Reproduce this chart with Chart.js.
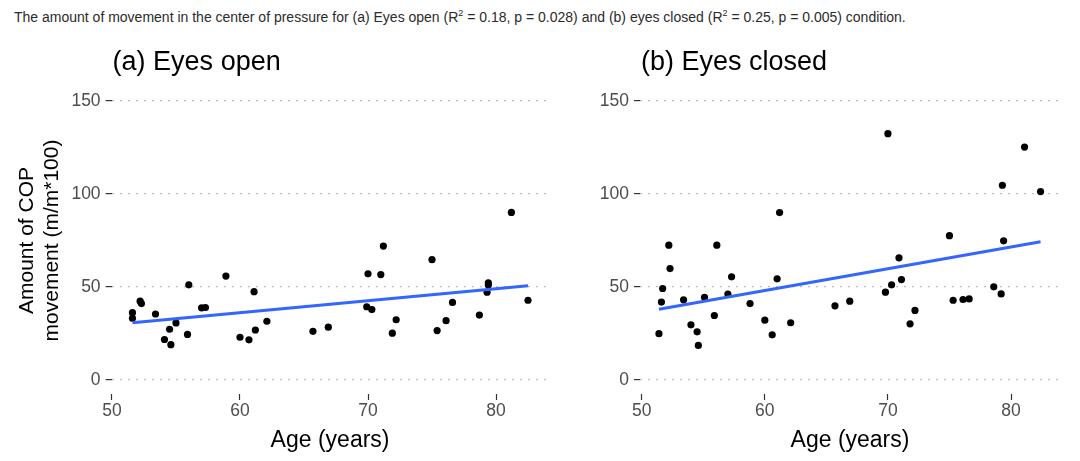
<!DOCTYPE html>
<html>
<head>
<meta charset="utf-8">
<script src="https://cdn.jsdelivr.net/npm/chart.js"></script>
<style>
  body { margin: 0; width: 1080px; height: 461px; background: #fff; position: relative; overflow: hidden;
         font-family: "Liberation Sans", Arial, sans-serif; }
  .caption { position: absolute; left: 14px; top: 9px; font-size: 14px; line-height: 16px; color: #2b2b2b; white-space: nowrap; }
  .caption sup { font-size: 9px; line-height: 0; }
  canvas { position: absolute; top: 0; }
  #chartOpen { left: 0; }
  #chartClosed { left: 560px; }
</style>
</head>
<body>
<div class="caption">The amount of movement in the center of pressure for (a) Eyes open (R<sup>2</sup> = 0.18, p = 0.028) and (b) eyes closed (R<sup>2</sup> = 0.25, p = 0.005) condition.</div>
<canvas id="chartOpen" width="560" height="461"></canvas>
<canvas id="chartClosed" width="520" height="461"></canvas>
<script>
// values
const ageOpen = [51.6, 51.6, 52.2, 52.3, 53.4, 54.1, 54.5, 54.6, 55.0, 55.9, 56.0, 57.0, 57.3, 58.9, 60.0, 60.7, 61.1, 61.2, 62.1,
                 65.7, 66.9, 69.9, 70.0, 70.3, 71.0, 71.2, 71.9, 72.2, 75.0, 75.4, 76.1, 76.6, 78.7, 79.3, 79.4, 79.4, 81.2, 82.5];
const copOpen = [36.2, 33.2, 42.4, 41.1, 35.5, 21.8, 27.3, 19.0, 30.7, 24.5, 51.2, 38.8, 39.0, 55.9, 23.0, 21.6, 47.5, 26.9, 31.6,
                 26.2, 28.4, 39.4, 57.1, 37.9, 56.7, 72.0, 25.2, 32.4, 64.7, 26.6, 31.9, 41.7, 34.9, 47.2, 52.3, 51.1, 90.1, 42.9];

const ageClosed = [51.4, 51.6, 51.7, 52.2, 52.3, 53.4, 54.0, 54.5, 54.6, 55.1, 55.9, 56.1, 57.0, 57.3, 58.8, 60.0, 60.6, 61.0, 61.2, 62.1,
                   65.7, 66.9, 69.8, 70.0, 70.3, 70.9, 71.1, 71.8, 72.2, 75.0, 75.3, 76.1, 76.6, 78.6, 79.2, 79.3, 79.4, 81.1, 82.4];
const copClosed = [24.9, 41.9, 49.2, 72.5, 59.9, 43.1, 29.7, 25.9, 18.6, 44.5, 34.7, 72.5, 46.2, 55.5, 41.1, 32.2, 24.3, 54.4, 90.0, 30.8,
                   39.9, 42.4, 47.2, 132.4, 51.2, 65.7, 54.0, 30.2, 37.4, 77.6, 42.9, 43.3, 43.6, 50.1, 46.3, 104.7, 74.8, 125.2, 101.3];

const xTicks = [50, 60, 70, 80];
const yTicks = [0, 50, 100, 150];

Chart.defaults.font.family = '"Liberation Sans", Arial, sans-serif';

// least squares line over the data range (geom_smooth lm)
function fitLine(xs, ys) {
  const n = xs.length;
  const mx = xs.reduce((a, b) => a + b, 0) / n;
  const my = ys.reduce((a, b) => a + b, 0) / n;
  let sxy = 0, sxx = 0;
  for (let i = 0; i < n; i++) {
    sxy += (xs[i] - mx) * (ys[i] - my);
    sxx += (xs[i] - mx) * (xs[i] - mx);
  }
  const b = sxy / sxx, a = my - b * mx;
  const x0 = Math.min(...xs), x1 = Math.max(...xs);
  return [{ x: x0, y: a + b * x0 }, { x: x1, y: a + b * x1 }];
}

const panelTitle = {
  id: 'panelTitle',
  afterDraw(chart, args, opts) {
    const ctx = chart.ctx;
    ctx.save();
    ctx.font = '27px "Liberation Sans", Arial, sans-serif';
    ctx.fillStyle = '#000';
    ctx.textBaseline = 'alphabetic';
    ctx.fillText(opts.text, chart.chartArea.left + 1, 70);
    ctx.restore();
  }
};

function makeChart(id, title, ages, cops, opt) {
  const pts = ages.map((a, i) => ({ x: a, y: cops[i] }));
  return new Chart(document.getElementById(id), {
    type: 'scatter',
    data: {
      datasets: [
        { type: 'line', data: fitLine(ages, cops), borderColor: '#3366FF', borderWidth: 3,
          pointRadius: 0, fill: false, order: 0 },
        { data: pts, backgroundColor: '#000', borderWidth: 0, pointRadius: 3.6, order: 1 }
      ]
    },
    options: {
      responsive: false,
      animation: false,
      layout: { padding: { top: 87, right: opt.padRight, left: 0, bottom: 0 } },
      plugins: {
        legend: { display: false },
        tooltip: { enabled: false },
        panelTitle: { text: title }
      },
      scales: {
        x: {
          type: 'linear', min: opt.xMin, max: opt.xMax,
          afterBuildTicks: s => { s.ticks = xTicks.map(v => ({ value: v })); },
          afterFit: s => { s.height = 67; },
          border: { display: false },
          grid: { drawOnChartArea: false, tickLength: 6, tickColor: '#333', tickWidth: 1.2 },
          ticks: { color: '#4d4d4d', font: { size: 17.5 }, padding: 1, maxRotation: 0, autoSkip: false },
          title: { display: true, text: 'Age (years)', color: '#000', font: { size: 23 }, padding: { top: 0, bottom: 7 } }
        },
        y: {
          min: -7.5, max: 157.5,
          afterBuildTicks: s => { s.ticks = yTicks.map(v => ({ value: v })); },
          afterFit: s => { s.width = opt.leftW; },
          border: { display: false, dash: [2, 6] },
          grid: { color: '#bdbdbd', lineWidth: 1.2, tickLength: 6, tickColor: '#333', tickWidth: 1.2, tickBorderDash: [100, 0] },
          ticks: { color: '#4d4d4d', font: { size: 17.5 }, padding: 5 },
          title: { display: opt.yTitle, text: ['Amount of COP', 'movement (m/m*100)'], color: '#000',
                   font: { size: 21, lineHeight: 1.2 }, padding: { top: 14.4, bottom: 0 } }
        }
      }
    },
    plugins: [panelTitle]
  });
}

makeChart('chartOpen', '(a) Eyes open', ageOpen, copOpen,
  { xMin: 49.97, xMax: 84.1, leftW: 111.6, padRight: 11.5, yTitle: true });
makeChart('chartClosed', '(b) Eyes closed', ageClosed, copClosed,
  { xMin: 49.86, xMax: 83.98, leftW: 80, padRight: 20, yTitle: false });
</script>
</body>
</html>
